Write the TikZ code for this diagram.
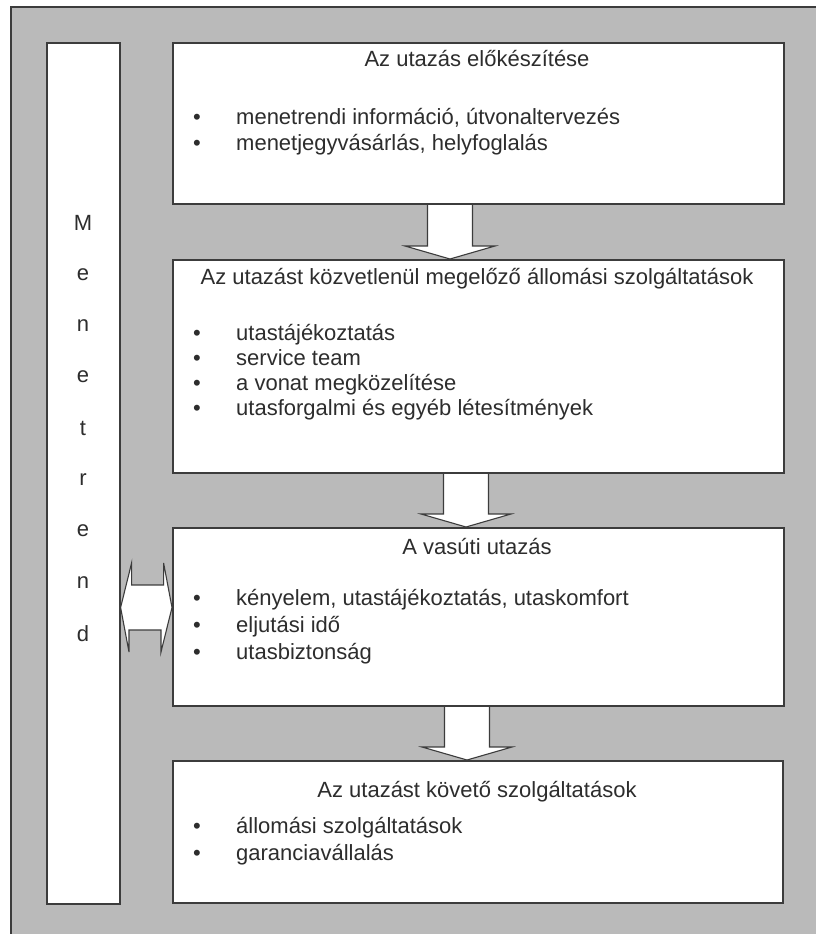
\documentclass[tikz,border=0pt]{standalone}
\usepackage{fontspec}
\setmainfont{Liberation Sans}
\usetikzlibrary{calc}
\pgfdeclarelayer{back}
\pgfdeclarelayer{mid}
\pgfsetlayers{back,mid,main}
\definecolor{paper}{RGB}{186,186,186}
\definecolor{ink}{RGB}{45,45,45}
\definecolor{frameline}{RGB}{60,60,60}

\begin{document}
\begin{tikzpicture}[x=1pt,y=-1pt,
  font=\fontsize{22}{26}\selectfont, text=ink,
  box/.style={draw=frameline, line width=1.6pt, fill=white, inner sep=0pt, anchor=north west},
  title/.style={anchor=mid, inner sep=0pt},
  item/.style={anchor=mid west, inner sep=0pt},
  dot/.style={anchor=mid, inner sep=0pt},
  letter/.style={anchor=center, inner sep=0pt},
  blockarrow/.style={draw=frameline, line width=1.1pt, fill=white, line join=miter}]

\useasboundingbox (0,0) rectangle (815,934);

% paper and the grey panel
\begin{pgfonlayer}{back}
  \fill[white] (0,0) rectangle (815,934);
  \filldraw[fill=paper, draw=frameline, line width=1.4pt] (11,7) rectangle (840,960);
\end{pgfonlayer}

% timetable column
\node[box, minimum width=73pt, minimum height=861pt] (ml) at (46,42) {};
\foreach \c [count=\i] in {M,e,n,e,t,r,e,n,d}
  \node[letter] (L\i) at (83,{223+(\i-1)*51.3}) {\c};

% stage boxes
\node[box, minimum width=611pt, minimum height=161pt] (b1) at (172,42) {};
\node[box, minimum width=611pt, minimum height=213pt] (b2) at (172,259) {};
\node[box, minimum width=611pt, minimum height=178pt] (b3) at (172,527) {};
\node[box, minimum width=610pt, minimum height=142pt] (b4) at (172,760) {};

% box 1
\node[title] (t1) at (477,64) {Az utazás előkészítése};
\node[dot] (d11) at (197,122) {•};
\node[item] (i11) at (236,122) {menetrendi információ, útvonaltervezés};
\node[dot] (d12) at (197,148) {•};
\node[item] (i12) at (236,148) {menetjegyvásárlás, helyfoglalás};

% box 2
\node[title] (t2) at (477,282) {Az utazást közvetlenül megelőző állomási szolgáltatások};
\node[dot] (d21) at (197,338) {•};
\node[item] (i21) at (236,338) {utastájékoztatás};
\node[dot] (d22) at (197,363) {•};
\node[item] (i22) at (236,363) {service team};
\node[dot] (d23) at (197,388) {•};
\node[item] (i23) at (236,388) {a vonat megközelítése};
\node[dot] (d24) at (197,413) {•};
\node[item] (i24) at (236,413) {utasforgalmi és egyéb létesítmények};

% box 3
\node[title] (t3) at (477,552) {A vasúti utazás};
\node[dot] (d31) at (197,603) {•};
\node[item] (i31) at (236,603) {kényelem, utastájékoztatás, utaskomfort};
\node[dot] (d32) at (197,630) {•};
\node[item] (i32) at (236,630) {eljutási idő};
\node[dot] (d33) at (197,657) {•};
\node[item] (i33) at (236,657) {utasbiztonság};

% box 4
\node[title] (t4) at (477,795) {Az utazást követő szolgáltatások};
\node[dot] (d41) at (197,831) {•};
\node[item] (i41) at (236,831) {állomási szolgáltatások};
\node[dot] (d42) at (197,858) {•};
\node[item] (i42) at (236,858) {garanciavállalás};

% block arrows between the stages
\coordinate (c1) at (450,0);
\coordinate (c2) at (466,0);
\coordinate (c3) at (467,0);
\coordinate (dy) at (0,607.5);
\begin{pgfonlayer}{mid}
  \foreach \c/\u/\v in {c1/b1/b2, c2/b2/b3, c3/b3/b4}
    \filldraw[blockarrow] let \p1=(\c |- \u.south), \p2=(\c |- \v.north) in
      (\x1-22.5pt,\y1+3pt) -- (\x1-22.5pt,\y2+13pt) -- (\x1-45pt,\y2+13pt) --
      (\p2) -- (\x1+45pt,\y2+13pt) -- (\x1+22.5pt,\y2+13pt) -- (\x1+22.5pt,\y1+3pt);
  % two-way arrow between the timetable and the journey
  \filldraw[blockarrow] (ml.east |- dy) -- ++(11,-44.5) -- ++(0,22) -- ++(32,0) -- ++(0,-22)
    -- (b3.west |- dy) -- ++(-11,44.5) -- ++(0,-22) -- ++(-32,0) -- ++(0,22) -- cycle;
\end{pgfonlayer}
\end{tikzpicture}
\end{document}
